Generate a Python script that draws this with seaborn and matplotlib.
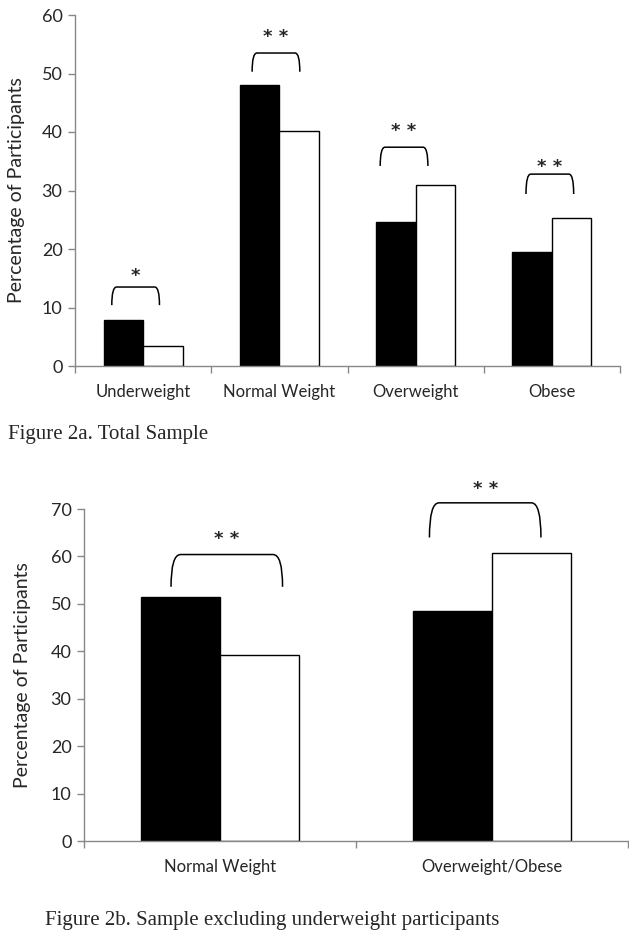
import numpy as np
import matplotlib.pyplot as plt
import pandas as pd
import seaborn as sns
from matplotlib.path import Path
from matplotlib.patches import PathPatch

sns.set_style("white")
plt.rcParams['font.family'] = ['Lato', 'DejaVu Sans']

# Figure 2a data
cats_a = ['Underweight', 'Normal Weight', 'Overweight', 'Obese']
black_a = [7.8, 48.0, 24.7, 19.5]
white_a = [3.5, 40.2, 31.0, 25.3]
# brackets: left/right offsets, top, end of legs, star height
brk_a_left = [-0.23, -0.20, -0.26, -0.19]
brk_a_right = [0.12, 0.15, 0.09, 0.16]
brk_a_top = [13.5, 53.5, 37.4, 32.8]
brk_a_end = [10.4, 50.3, 34.2, 29.4]
star_a_y = [15.4, 56.2, 40.2, 34.0]
stars_a = ['*', '* *', '* *', '* *']

# Figure 2b data
cats_b = ['Normal Weight', 'Overweight/Obese']
black_b = [51.5, 48.5]
white_b = [39.3, 60.7]
brk_b_left = [-0.18, -0.23]
brk_b_right = [0.23, 0.18]
brk_b_top = [60.4, 71.3]
brk_b_end = [53.6, 64.0]
star_b_y = [63.6, 74.2]
stars_b = ['* *', '* *']

groups = ['Group 1', 'Group 2']


def make_df(cats, b, w):
    return pd.DataFrame({
        'cat': cats * 2,
        'group': [groups[0]] * len(cats) + [groups[1]] * len(cats),
        'val': list(b) + list(w),
    })


def bracket(ax, x0, x1, ytop, yend, ystar, label, dx=0.035):
    verts = [(x0, yend), (x0, ytop), (x0 + dx, ytop),
             (x1 - dx, ytop), (x1, ytop), (x1, yend)]
    codes = [Path.MOVETO, Path.CURVE3, Path.CURVE3,
             Path.LINETO, Path.CURVE3, Path.CURVE3]
    ax.add_patch(PathPatch(Path(verts, codes), fill=False, lw=1.1,
                           edgecolor='black', clip_on=False))
    ax.text((x0 + x1) / 2, ystar, label, ha='center', va='center',
            fontsize=13, fontweight='bold', family='DejaVu Sans',
            clip_on=False)


def draw(ax, cats, b, w, lefts, rights, tops, ends, ystars, stars, ymax):
    df = make_df(cats, b, w)
    sns.barplot(data=df, x='cat', y='val', hue='group', ax=ax,
                palette=['black', 'white'], edgecolor='black', linewidth=1,
                width=0.58, legend=False, errorbar=None)
    n = len(cats)
    ax.set_xlim(-0.5, n - 0.5)
    ax.set_ylim(0, ymax)
    ax.set_yticks(np.arange(0, ymax + 1, 10))
    ax.set_xticks(np.arange(-0.5, n), minor=True)
    ax.tick_params(axis='x', which='major', length=0, pad=13, labelsize=12)
    ax.tick_params(axis='x', which='minor', length=5, color='#888888', width=1,
                   direction='out', bottom=True)
    ax.tick_params(axis='y', length=5, color='#888888', width=1,
                   direction='out', left=True, labelsize=13, pad=4)
    ax.set_xlabel('')
    ax.set_ylabel('Percentage of Participants', fontsize=14)
    sns.despine(ax=ax)
    for s in ['left', 'bottom']:
        ax.spines[s].set_color('#888888')
        ax.spines[s].set_linewidth(1)
    for i in range(n):
        bracket(ax, i + lefts[i], i + rights[i], tops[i], ends[i], ystars[i],
                stars[i])


fig = plt.figure(figsize=(6.29, 9.4), dpi=100)
ax1 = fig.add_axes([75 / 629, 1 - 366 / 940, 545 / 629, 351 / 940])
ax2 = fig.add_axes([84 / 629, 1 - 841 / 940, 544 / 629, 332 / 940])

draw(ax1, cats_a, black_a, white_a, brk_a_left, brk_a_right, brk_a_top,
     brk_a_end, star_a_y, stars_a, 60)
draw(ax2, cats_b, black_b, white_b, brk_b_left, brk_b_right, brk_b_top,
     brk_b_end, star_b_y, stars_b, 70)
ax1.yaxis.set_label_coords((17 - 75) / 545, 0.5)
ax2.yaxis.set_label_coords((23 - 84) / 544, 0.5)
ax1.yaxis.label.set_va('center')
ax2.yaxis.label.set_va('center')

fig.text(8 / 629, 1 - 435 / 940, 'Figure 2a. Total Sample',
         family='Liberation Serif', fontsize=15, va='center')
fig.text(45 / 629, 1 - 920 / 940,
         'Figure 2b. Sample excluding underweight participants',
         family='Liberation Serif', fontsize=15, va='center')

fig.savefig('out.png', dpi=100)
